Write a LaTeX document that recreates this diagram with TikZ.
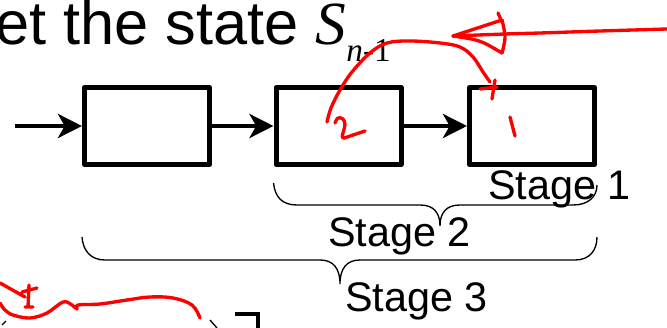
\documentclass[tikz,border=0pt]{standalone}
\usepackage{fontspec}
\setmainfont{Liberation Sans}
\newfontfamily\timesit{Liberation Serif}
\usetikzlibrary{arrows.meta, positioning, calc}

\begin{document}
\begin{tikzpicture}[x=0.75pt, y=-0.75pt,
    >={Stealth[length=18pt, width=18pt, inset=5pt]},
    blk/.style={draw, line width=3.75pt, line join=round, minimum width=93.75pt,
      minimum height=57.75pt, inner sep=0pt},
    flow/.style={->, line width=3.6pt},
    brc/.style={line width=1pt},
    lbl/.style={font=\fontsize{31}{34}\selectfont, inner sep=0pt, anchor=base west},
    ink/.style={red, line width=2.5pt, line cap=round, line join=round}]
  \useasboundingbox (0,0) rectangle (667,328);
  % title line, cut at the left edge
  \node[anchor=base west, inner sep=0pt, font=\fontsize{46}{50}\selectfont] (title) at (-5,45)
    {et the state {\timesit\itshape S}\raisebox{-12.75pt}{\fontsize{25}{27}\selectfont\timesit{\itshape n}-1}};
  % chain of stages
  \node[blk] (box1) at (147,126) {};
  \node[blk] (box2) at (338.5,126) {};
  \node[blk] (box3) at (532,126) {};
  \coordinate (in) at (15,126);
  \draw[flow] (in) -- (box1);
  \draw[flow] (box1) -- (box2);
  \draw[flow] (box2) -- (box3);
  % braces
  \draw[brc] (box2.west |- 0,183) .. controls (275,197) and (282,205) .. (297,205) -- (420,205)
    .. controls (433,205) and (440,212) .. (440,226) .. controls (440,212) and (447,205) .. (460,205)
    -- (573,205) .. controls (588,205) and (597,197) .. (box3.east |- 0,185);
  \draw[brc] (box1.west |- 0,237) .. controls (83,251) and (91,260) .. (105,260) -- (320,260)
    .. controls (333,260) and (340,268) .. (340,284) .. controls (340,268) and (347,260) .. (360,260)
    -- (575,260) .. controls (589,260) and (597,251) .. (box3.east |- 0,237);
  \node[lbl] (st1) at (488,199) {Stage 1};
  \node[lbl] (st2) at (328,246) {Stage 2};
  \node[lbl] (st3) at (345,311) {Stage 3};
  % next slide peeking in
  \draw[line width=1pt] (2,325) -- (6,321);
  \draw[line width=1pt] (210,320) -- (217,328);
  \draw[line width=3pt] (235,314) -- (258,314) -- (258,328);
  % red pen
  \draw[ink] plot[smooth, tension=0.6] coordinates {(327,122) (331,108) (340,90) (352,72) (370,53)
    (387,43) (410,41) (440,43) (460,47) (473,57) (483,72) (490,82)};
  \draw[ink] (480,89) -- (497,87) (495,80) -- (492,99);
  \draw[ink] plot[smooth, tension=0.6] coordinates {(335,123) (338,118) (343,119) (345,125)
    (343,133) (343,138) (353,135) (365,131)};
  \draw[ink] (510,117) -- (515,136);
  \draw[ink] plot[smooth, tension=0.6] coordinates {(667,29) (600,31) (540,33) (505,34) (453,36)};
  \draw[ink] (502,20) -- (453,36) .. controls (480,40) .. (502,53);
  \draw[ink] plot[smooth, tension=0.6] coordinates {(502,20) (505,37) (502,53)};
  \draw[ink] (498,13) -- (502,22);
  \draw[ink] (0,283) -- (25,297) (22,292) -- (37,288) (29,285) -- (28,307) (25,307) -- (33,307);
  \draw[ink] plot[smooth, tension=0.6] coordinates {(0,303) (5,310) (13,315) (30,318) (47,313)
    (63,302) (72,305) (77,309) (78,305) (100,304) (127,300) (150,297) (173,298) (192,305) (200,318)};
\end{tikzpicture}
\end{document}
